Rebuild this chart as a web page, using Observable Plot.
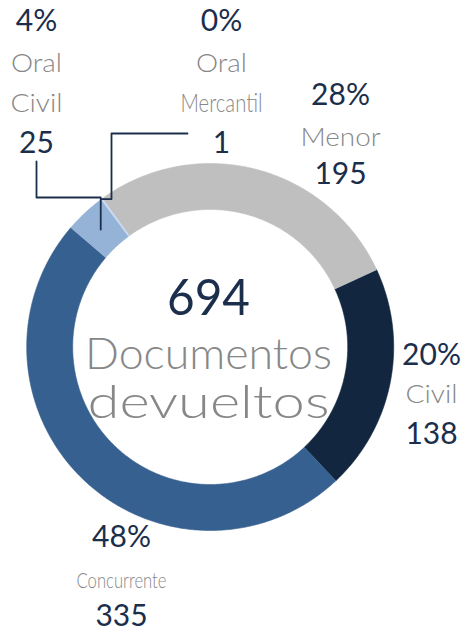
<!DOCTYPE html>
<html><head><meta charset="utf-8">
<script src="https://cdn.jsdelivr.net/npm/d3@7"></script>
<script src="https://cdn.jsdelivr.net/npm/@observablehq/plot@0.6"></script>
<style>body{margin:0;background:#fff}</style>
</head><body><div id="chart"></div>
<script>
// ---- data ----
const categories = ["Menor", "Civil", "Concurrente", "Oral Civil", "Oral Mercantil"];
const values = [195, 138, 335, 25, 1];
const nameLines = [["Menor"], ["Civil"], ["Concurrente"], ["Oral", "Civil"], ["Oral", "Mercantil"]];
const centerLines = ["Documentos", "devueltos"];

// ---- styles / layout ----
const colors = ["#BFBFBF", "#13263F", "#36608F", "#95B3D7", "#C6D9F1"];
const NAVY = "#1B2E4C", GREY = "#878787";
const FONT = "Lato, 'Open Sans', sans-serif";
const W = 465, H = 632, CX = 209.7, CY = 346.5, R_OUT = 183.5, R_IN = 137.5;
const START = -36 * Math.PI / 180;
const labelLayout = {
  "Menor": {x: 340, ys: [95, 137, 174]},
  "Civil": {x: 431, ys: [355, 394, 434]},
  "Concurrente": {x: 121, ys: [537, 581, 616], nameSize: 21},
  "Oral Civil": {x: 36, ys: [21, 63, 103, 143]},
  "Oral Mercantil": {x: 221, ys: [21, 63, 103, 143]}
};
const leaderLayout = {
  "Oral Civil": {from: [36, 161], route: "vhv", elbow: 197, r: (R_IN + R_OUT) / 2},
  "Oral Mercantil": {from: [187, 133], route: "hvh", elbow: 111, r: R_OUT}
};
// target text widths (px) to mimic the original wide/condensed typeface
const textWidths = {"Mercantil": 82, "Concurrente": 90, "Menor": 80, "Oral": 51, "Civil": 52,
  "Documentos": 247, "devueltos": 242, "694": 83};
const centerLayout = {x: 208, ys: [298, 354, 403]};

// ---- geometry from the data ----
const total = d3.sum(values);
const arcs = d3.pie().sort(null).startAngle(START).endAngle(START + 2 * Math.PI)(values);
const px = (r, a) => r * Math.sin(a);
const py = (r, a) => -r * Math.cos(a);

const slicePts = [];
arcs.forEach((a, i) => {
  const n = Math.max(2, Math.ceil((a.endAngle - a.startAngle) / (Math.PI / 360)));
  const cat = categories[i];
  for (let k = 0; k <= n; k++) {
    const t = a.startAngle + (a.endAngle - a.startAngle) * k / n;
    slicePts.push({cat, x: px(R_OUT, t), y: py(R_OUT, t)});
  }
  for (let k = n; k >= 0; k--) {
    const t = a.startAngle + (a.endAngle - a.startAngle) * k / n;
    slicePts.push({cat, x: px(R_IN, t), y: py(R_IN, t)});
  }
});

// labels
const pctRows = [], nameRows = [], valRows = [];
categories.forEach((c, i) => {
  const L = labelLayout[c];
  const x = L.x - CX;
  pctRows.push({x, y: L.ys[0] - CY, text: Math.round(values[i] / total * 100) + "%"});
  nameLines[i].forEach((t, j) => nameRows.push({x, y: L.ys[1 + j] - CY, text: t, size: L.nameSize || 26}));
  valRows.push({x, y: L.ys[L.ys.length - 1] - CY, text: String(values[i])});
});

// leader lines
const leaderPts = [];
Object.entries(leaderLayout).forEach(([c, L]) => {
  const a = arcs[categories.indexOf(c)];
  const mid = (a.startAngle + a.endAngle) / 2;
  const sx = px(L.r, mid) + CX, sy = py(L.r, mid) + CY;
  const [x0, y0] = L.from;
  const pts = L.route === "vhv"
    ? [[x0, y0], [x0, L.elbow], [sx, L.elbow], [sx, sy]]
    : [[x0, y0], [L.elbow, y0], [L.elbow, sy], [sx, sy]];
  pts.forEach(([x, y]) => leaderPts.push({cat: c, x: x - CX, y: y - CY}));
});

const centerRows = [
  {text: String(total), y: centerLayout.ys[0] - CY, fill: NAVY, size: 50, weight: 400},
  {text: centerLines[0], y: centerLayout.ys[1] - CY, fill: GREY, size: 44, weight: 300},
  {text: centerLines[1], y: centerLayout.ys[2] - CY, fill: GREY, size: 45, weight: 300}
];

const plot = Plot.plot({
  width: W, height: H,
  margin: 0,
  style: {fontFamily: FONT, background: "#fff"},
  x: {domain: [-CX, W - CX], range: [0, W], axis: null},
  y: {domain: [-CY, H - CY], range: [0, H], axis: null},
  color: {domain: categories, range: colors, type: "ordinal"},
  marks: [
    Plot.line(slicePts, {x: "x", y: "y", z: "cat", fill: "cat", stroke: "cat", strokeWidth: 0.6, curve: "linear"}),
    Plot.line(leaderPts, {x: "x", y: "y", z: "cat", stroke: NAVY, strokeWidth: 1.8, curve: "linear"}),
    Plot.text(pctRows, {x: "x", y: "y", text: "text", fill: NAVY, fontSize: 30, fontWeight: 400, fontFamily: FONT}),
    Plot.text(nameRows, {x: "x", y: "y", text: "text", fill: GREY, fontSize: d => d.size, fontWeight: 300, fontFamily: FONT}),
    Plot.text(valRows, {x: "x", y: "y", text: "text", fill: NAVY, fontSize: 30, fontWeight: 400, fontFamily: FONT}),
    Plot.text(centerRows.slice(0, 1), {x: centerLayout.x - CX, y: "y", text: "text", fill: NAVY, fontSize: 50, fontWeight: 400, fontFamily: FONT}),
    Plot.text(centerRows.slice(1), {x: centerLayout.x - CX, y: "y", text: "text", fill: GREY, fontSize: d => d.size, fontWeight: 300, fontFamily: FONT})
  ]
});

d3.select(plot).selectAll("text").each(function () {
  const w = textWidths[this.textContent];
  if (w) { this.setAttribute("textLength", w); this.setAttribute("lengthAdjust", "spacingAndGlyphs"); }
});

document.getElementById("chart").appendChild(plot);
</script>
</body></html>
